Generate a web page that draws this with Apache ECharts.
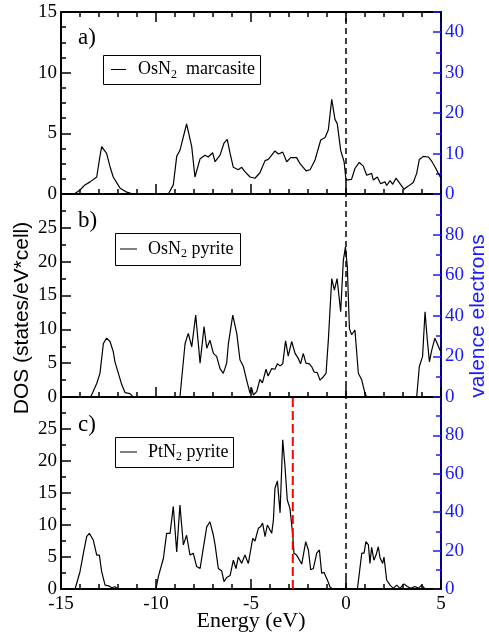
<!DOCTYPE html>
<html>
<head>
<meta charset="utf-8">
<script src="https://cdn.jsdelivr.net/npm/echarts@6/dist/echarts.min.js"></script>
<style>html,body{margin:0;padding:0;background:#fff;}#c{width:489px;height:634px;}</style>
</head>
<body>
<div id="c"></div>
<script>
// ---- data (energy in eV, DOS in states/eV*cell) ----
const energyA = [-15,-14.3,-14.0,-13.74,-13.47,-13.12,-12.95,-12.86,-12.6,-12.42,-12.25,-11.9,-11.54,-11.2,-9.35,-9.09,-8.91,-8.74,-8.65,-8.39,-8.12,-7.95,-7.68,-7.42,-7.25,-7.02,-6.89,-6.63,-6.42,-6.25,-6.1,-5.93,-5.67,-5.49,-5.32,-5.05,-4.79,-4.53,-4.26,-4.09,-3.91,-3.74,-3.56,-3.33,-3.12,-2.91,-2.6,-2.42,-2.1,-1.89,-1.63,-1.33,-1.1,-0.93,-0.75,-0.58,-0.46,-0.28,-0.1,0.0,0.29,0.47,0.7,0.91,1.09,1.35,1.44,1.53,1.65,1.82,2.05,2.14,2.32,2.46,2.63,2.84,3.05,3.28,3.54,3.72,3.86,4.07,4.33,4.51,4.68,4.86,5.0];
const dosA    = [0,0,0.33,0.75,1.0,1.4,3.1,3.9,3.35,2.25,1.4,0.5,0.15,0,0,0.75,3.1,3.6,3.5,5.77,3.9,1.4,2.9,3.2,3.05,3.4,2.66,3.2,4.2,4.5,3.35,2.2,2.0,2.2,1.85,1.4,1.3,1.75,2.75,2.85,3.2,3.55,3.3,3.45,2.66,3.0,3.0,2.5,1.9,2.0,2.8,4.45,4.65,5.3,7.8,6.15,5.8,3.6,2.66,1.15,1.2,2.1,2.6,2.3,1.55,1.7,1.15,1.0,1.4,0.85,1.0,0.7,1.1,0.8,1.3,0.85,0.4,0.65,0.95,1.7,2.85,3.1,3.05,2.7,2.25,1.7,1.3];

const energyB = [-15,-13.45,-13.39,-13.12,-12.95,-12.77,-12.6,-12.42,-12.25,-12.16,-11.98,-11.8,-11.63,-11.37,-11.23,-11.1,-8.74,-8.47,-8.3,-8.12,-7.91,-7.68,-7.47,-7.33,-7.16,-6.98,-6.81,-6.63,-6.46,-6.28,-6.19,-5.96,-5.75,-5.58,-5.4,-5.23,-5.05,-4.96,-4.88,-4.7,-4.53,-4.4,-4.21,-4.1,-3.91,-3.74,-3.61,-3.47,-3.33,-3.18,-3.04,-2.86,-2.68,-2.51,-2.39,-2.25,-2.11,-1.93,-1.81,-1.68,-1.51,-1.37,-1.19,-1.05,-0.93,-0.75,-0.61,-0.47,-0.28,-0.14,-0.03,0.07,0.18,0.3,0.47,0.65,0.83,1.0,1.09,3.72,3.86,4.03,4.16,4.28,4.39,4.51,4.68,4.77,4.95,5.0];
const dosB    = [0,0,0.3,2.0,3.5,7.9,8.7,8.2,6.7,5.2,3.5,1.8,0.65,0.5,0.1,0,0,7.9,9.4,7.4,12.1,5.0,10.4,7.2,8.4,6.45,6.0,4.2,3.5,5.0,7.9,12.1,9.4,5.5,4.5,2.5,0.55,1.3,0.3,0.8,2.6,2.1,4.1,3.1,4.2,4.1,4.9,4.6,4.9,8.3,6.05,8.2,6.45,5.7,4.9,6.45,5.0,4.9,4.5,3.7,3.6,2.5,3.0,3.5,8.4,17.5,15.8,17.5,12.6,20.2,22.2,19.2,10.1,9.2,9.9,3.5,2.5,0.55,0,0,4.5,6.0,12.6,8.4,5.2,6.9,8.7,8.1,6.9,6.8];

const energyC = [-15,-14.26,-14.0,-13.82,-13.65,-13.51,-13.3,-13.12,-12.98,-12.86,-12.68,-12.5,-12.33,-12.16,-12.0,-10.0,-9.88,-9.61,-9.44,-9.26,-9.09,-8.91,-8.74,-8.56,-8.39,-8.21,-8.04,-7.86,-7.68,-7.51,-7.33,-7.16,-6.98,-6.89,-6.72,-6.54,-6.42,-6.28,-6.1,-5.93,-5.79,-5.67,-5.49,-5.32,-5.14,-4.91,-4.79,-4.61,-4.49,-4.39,-4.26,-4.14,-3.91,-3.82,-3.74,-3.61,-3.47,-3.33,-3.21,-3.09,-2.95,-2.81,-2.74,-2.6,-2.33,-2.12,-1.98,-1.86,-1.72,-1.54,-1.4,-1.28,-1.16,-0.98,-0.84,-0.7,0.6,0.83,0.95,1.05,1.18,1.26,1.35,1.47,1.58,1.7,1.79,1.93,2.0,2.14,2.32,2.49,2.67,2.84,3.05,3.23,3.4,3.63,3.81,3.98,4.16,5.0];
const dosC    = [0,0,2.7,5.6,8.2,8.7,7.65,5.3,5.3,2.7,0.6,0.5,0.2,0.35,0,0,1.9,4.8,8.7,8.7,12.9,5.8,13.1,6.9,8.4,5.3,5.6,3.5,3.2,6.4,9.7,10.5,8.4,6.9,3.2,2.8,1.15,1.8,2.1,4.5,3.2,5.0,4.0,5.3,4.0,7.9,7.5,9.5,9.75,10.3,8.2,10.0,8.7,10.8,15.7,16.9,11.9,23.3,19.1,13.9,12.6,8.7,5.6,5.3,3.9,7.4,6.1,3.0,3.2,5.6,6.1,2.45,2.6,1.4,0.3,0,0,5.6,5.6,7.4,6.9,4.0,6.5,4.5,5.3,6.6,4.9,4.0,5.0,1.4,0.6,0.1,0.6,0.1,0.8,0.4,0.1,0.4,0.1,0.6,0,0];

const legendTexts = ['{t|OsN}{s|2}{t|  marcasite}', '{t|OsN}{s|2}{t| pyrite}', '{t|PtN}{s|2}{t| pyrite}'];
const panelLabels = ['a)', 'b)', 'c)'];
const fermiLevel = 0;
const redLineEnergy = -2.8;
const xTicks = {min: -15, max: 5, interval: 5};
const leftMax = [15, 30, 30];
const rightMax = [45, 100, 100];
const rightInterval = [10, 20, 20];

// ---- layout ----
const serif = '"Liberation Serif", "Times New Roman", serif';
const sans = '"Liberation Sans", Arial, sans-serif';
const blue = '#1a1aff';
const rects = [
  {left: 61, top: 12, width: 380, height: 182},
  {left: 61, top: 194, width: 380, height: 203},
  {left: 61, top: 397, width: 380, height: 192}
];
const grids = rects.concat(rects.map(r => Object.assign({}, r)));
const zip = (xs, ys) => xs.map((x, i) => [x, ys[i]]);
const dataSets = [zip(energyA, dosA), zip(energyB, dosB), zip(energyC, dosC)];

const xAxes = [];
const yAxes = [];
for (let i = 0; i < 3; i++) {
  xAxes.push({
    type: 'value', gridIndex: i, min: xTicks.min, max: xTicks.max, interval: xTicks.interval,
    axisLine: {show: true, lineStyle: {color: '#000', width: 2}},
    axisTick: {show: true, inside: true, length: 10, lineStyle: {color: '#000', width: 1.5}},
    minorTick: {show: true, splitNumber: 5, length: 5, lineStyle: {color: '#000', width: 1.5}},
    splitLine: {show: false},
    axisLabel: {show: i === 2, color: '#000', fontFamily: serif, fontSize: 19, margin: 6}
  });
  const lm = leftMax[i];
  yAxes.push({
    type: 'value', gridIndex: i, min: 0, max: lm, interval: 5,
    axisLine: {show: true, onZero: false, lineStyle: {color: '#000', width: 2}},
    axisTick: {show: true, inside: true, length: 10, lineStyle: {color: '#000', width: 1.5}},
    minorTick: {show: true, splitNumber: i === 0 ? 4 : 2, length: 5, lineStyle: {color: '#000', width: 1.5}},
    splitLine: {show: false},
    axisLabel: {color: '#000', fontFamily: serif, fontSize: 19, margin: 4,
      formatter: v => (i > 0 && v >= lm) ? '' : String(v)}
  });
}
for (let i = 0; i < 3; i++) {
  xAxes.push({
    type: 'value', gridIndex: 3 + i, min: xTicks.min, max: xTicks.max, interval: xTicks.interval,
    position: 'top', show: i === 0,
    axisLine: {show: true, onZero: false, lineStyle: {color: '#000', width: 2}},
    axisTick: {show: true, inside: true, length: 10, lineStyle: {color: '#000', width: 1.5}},
    minorTick: {show: true, splitNumber: 5, length: 5, lineStyle: {color: '#000', width: 1.5}},
    splitLine: {show: false}, axisLabel: {show: false}
  });
  const rm = rightMax[i];
  yAxes.push({
    type: 'value', gridIndex: 3 + i, min: 0, max: rm, interval: rightInterval[i], position: 'right',
    axisLine: {show: true, onZero: false, lineStyle: {color: '#00008b', width: 2}},
    axisTick: {show: true, inside: true, length: 8, lineStyle: {color: blue, width: 1.5}},
    minorTick: {show: true, splitNumber: 2, length: 5, lineStyle: {color: blue, width: 1.5}},
    splitLine: {show: false},
    axisLabel: {color: blue, fontFamily: serif, fontSize: 19, margin: 4,
      formatter: v => (v >= rm || (i === 0 && v > 40)) ? '' : String(v)}
  });
}

const series = [];
for (let i = 0; i < 3; i++) {
  series.push({
    type: 'line', xAxisIndex: i, yAxisIndex: i,
    data: dataSets[i], symbol: 'none',
    lineStyle: {color: '#000', width: 1.2}, itemStyle: {color: '#000'}
  });
  series.push({
    type: 'line', xAxisIndex: i, yAxisIndex: i, symbol: 'none',
    data: [[fermiLevel, 0], [fermiLevel, leftMax[i]]],
    lineStyle: {color: '#000', width: 1.5, type: [6, 4]}
  });
}
series.push({
  type: 'line', xAxisIndex: 2, yAxisIndex: 2, symbol: 'none',
  data: [[redLineEnergy, 0], [redLineEnergy, leftMax[2]]],
  lineStyle: {color: '#ff0000', width: 2, type: [9, 4]}
});

// legend boxes
const legendBoxes = [
  {x: 103, y: 55, w: 157, h: 29, lx: 111, lw: 15, tx: 138},
  {x: 115, y: 233, w: 125, h: 32, lx: 120, lw: 17, tx: 148},
  {x: 115, y: 437, w: 118, h: 30, lx: 120, lw: 17, tx: 148}
];
const graphic = [];
legendBoxes.forEach((b, i) => {
  const cy = b.y + b.h / 2;
  graphic.push({type: 'rect', shape: {x: b.x + 0.5, y: b.y + 0.5, width: b.w, height: b.h},
    style: {fill: '#fff', stroke: '#000', lineWidth: 1}, z: 100});
  graphic.push({type: 'line', shape: {x1: b.lx, y1: cy, x2: b.lx + b.lw, y2: cy},
    style: {stroke: '#000', lineWidth: 1}, z: 101});
  graphic.push({type: 'text', x: b.tx, y: cy, z: 101,
    style: {text: legendTexts[i], verticalAlign: 'middle', align: 'left',
      rich: {
        t: {fontFamily: serif, fontSize: 18, fill: '#000', lineHeight: 22},
        s: {fontFamily: serif, fontSize: 12, fill: '#000', lineHeight: 22, padding: [10, 0, 0, 0]}
      }}});
});
const labelTops = [26, 209, 413];
for (let i = 0; i < 3; i++) {
  graphic.push({type: 'text', left: 78, top: labelTops[i],
    style: {text: panelLabels[i], font: '23px ' + serif, fill: '#000'}});
}
graphic.push({type: 'text', x: 251, y: 621,
  style: {text: 'Energy (eV)', font: '22px ' + serif, fill: '#000', align: 'center', verticalAlign: 'middle'}});
graphic.push({type: 'text', x: 22, y: 318, rotation: Math.PI / 2,
  style: {text: 'DOS (states/eV*cell)', font: '21px ' + sans, fill: '#000', align: 'center', verticalAlign: 'middle'}});
graphic.push({type: 'text', x: 478, y: 316, rotation: Math.PI / 2,
  style: {text: 'valence electrons', font: '21px ' + sans, fill: blue, align: 'center', verticalAlign: 'middle'}});

const chart = echarts.init(document.getElementById('c'));
chart.setOption({
  animation: false,
  grid: grids,
  xAxis: xAxes,
  yAxis: yAxes,
  series: series,
  graphic: graphic
});
</script>
</body>
</html>
